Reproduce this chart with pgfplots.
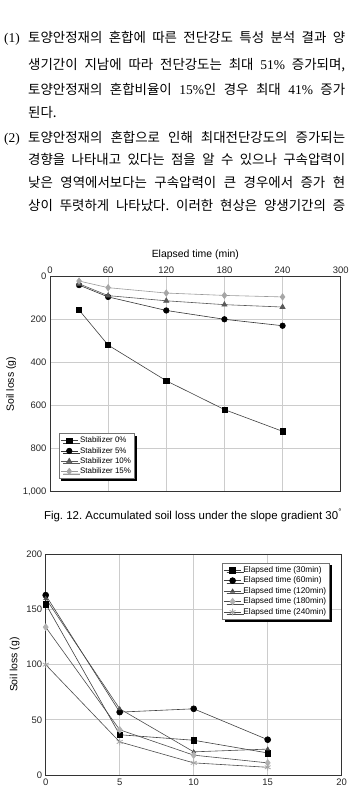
\documentclass[border=0pt]{standalone}
\usepackage{fontspec}
\setmainfont{Liberation Sans}
\newfontfamily\kr{Noto Sans CJK KR}
\newfontfamily\tnr{Liberation Serif}
\usepackage{pgfplots}
\pgfplotsset{compat=1.18}
\usetikzlibrary{shadows}
\frenchspacing

\pgfplotsset{
  soilaxis/.style={
    scale only axis,
    grid=major,
    grid style={black!20, line width=0.8pt},
    axis line style={black!80, line width=0.9pt},
    major tick length=0pt,
    tick label style={font=\fontsize{9.5}{10}\selectfont, text=black!85},
    label style={font=\fontsize{10.5}{12}\selectfont},
    /pgf/number format/assume math mode=true,
    /pgf/number format/1000 sep={,},
    legend cell align=left,
    every axis plot/.append style={line width=0.6pt},
  },
  shadowlegend/.style={
    draw=black!55, line width=0.5pt, fill=white,
    inner sep=1.5pt, row sep=-1pt,
    drop shadow={shadow xshift=2.5bp, shadow yshift=-2.5bp, fill=black, opacity=1},
  },
}

% one justified text line of the body
\newcommand{\bodyline}[2]{\node[anchor=base west, inner sep=0pt] at (28,#1) {\fontsize{13.5}{14}\kr\makebox[317bp][s]{#2}};}

\begin{document}
\begin{tikzpicture}[x=1bp, y=-1bp]
\useasboundingbox (0,0) rectangle (352,789);

% ---- body text ----
\node[anchor=base west, inner sep=0pt] at (4,42.7) {\fontsize{13.5}{14}\tnr (1)};
\bodyline{42.7}{토양안정재의 혼합에 따른 전단강도 특성 분석 결과 양}
\bodyline{69.4}{생기간이 지남에 따라 전단강도는 최대 {\tnr 51\%} 증가되며,}
\bodyline{94.4}{토양안정재의 혼합비율이 {\tnr 15\%}인 경우 최대 {\tnr 41\%} 증가}
\node[anchor=base west, inner sep=0pt] at (28,117.7) {\fontsize{13.5}{14}\kr 된다.};
\node[anchor=base west, inner sep=0pt] at (4,142.7) {\fontsize{13.5}{14}\tnr (2)};
\bodyline{142.7}{토양안정재의 혼합으로 인해 최대전단강도의 증가되는}
\bodyline{164.4}{경향을 나타내고 있다는 점을 알 수 있으나 구속압력이}
\bodyline{187.1}{낮은 영역에서보다는 구속압력이 큰 경우에서 증가 현}
\bodyline{210.1}{상이 뚜렷하게 나타났다. 이러한 현상은 양생기간의 증}

% ---- accumulated soil loss vs elapsed time ----
\begin{axis}[soilaxis,
  at={(50bp,-491.7bp)}, anchor=south west,
  width=290.7bp, height=215bp,
  xmin=0, xmax=300, ymin=0, ymax=1000,
  y dir=reverse,
  xtick={0,60,120,180,240,300},
  ytick={0,200,400,600,800,1000},
  xticklabel pos=upper,
  xlabel={Elapsed time (min)},
  ylabel={Soil loss (g)},
  legend style={shadowlegend, at={(0.03,0.06)}, anchor=south west,
    font=\fontsize{8}{8.5}\selectfont},
]
\addplot[color=black!75, mark=square*, mark size=2.6pt,
  mark options={fill=black, draw=black}]
  coordinates {(30,155) (60,318) (120,484) (180,618) (240,719)};
\addlegendentry{Stabilizer 0\%}
\addplot[color=black!80, mark=*, mark size=2.8pt,
  mark options={fill=black, draw=black}]
  coordinates {(30,39) (60,94) (120,157) (180,198) (240,228)};
\addlegendentry{Stabilizer 5\%}
\addplot[color=black!65, mark=triangle*, mark size=3pt,
  mark options={fill=black!65, draw=black!65}]
  coordinates {(30,33) (60,88) (120,112) (180,130) (240,141)};
\addlegendentry{Stabilizer 10\%}
\addplot[color=black!40, mark=diamond*, mark size=3.2pt,
  mark options={fill=black!35, draw=black!35}]
  coordinates {(30,20) (60,51) (120,76) (180,87) (240,94)};
\addlegendentry{Stabilizer 15\%}
\end{axis}

\node[anchor=base, inner sep=0pt] at (193,519)
  {\fontsize{11.5}{13}\selectfont Fig. 12. Accumulated soil loss under the slope gradient 30\textsuperscript{°}};

% ---- soil loss per interval ----
\begin{axis}[soilaxis,
  at={(45.7bp,-775bp)}, anchor=south west,
  width=296bp, height=220.7bp,
  xmin=0, xmax=20, ymin=0, ymax=200,
  xtick={0,5,10,15,20},
  ytick={0,50,100,150,200},
  ylabel={Soil loss (g)},
  legend style={shadowlegend, at={(0.96,0.962)}, anchor=north east,
    font=\fontsize{8.3}{8.8}\selectfont},
]
\addplot[color=black!75, mark=square*, mark size=2.9pt,
  mark options={fill=black, draw=black}]
  coordinates {(0,155) (5,36.5) (10,31.5) (15,20)};
\addlegendentry{Elapsed time (30min)}
\addplot[color=black!75, mark=*, mark size=3pt,
  mark options={fill=black, draw=black}]
  coordinates {(0,163) (5,57) (10,60) (15,32)};
\addlegendentry{Elapsed time (60min)}
\addplot[color=black!70, mark=triangle*, mark size=2.2pt,
  mark options={fill=black!70, draw=black!70}]
  coordinates {(0,160) (5,60) (10,21) (15,23.5)};
\addlegendentry{Elapsed time (120min)}
\addplot[color=black!70, mark=diamond*, mark size=3.4pt,
  mark options={fill=black!30, draw=black!30}]
  coordinates {(0,134) (5,41) (10,18) (15,11)};
\addlegendentry{Elapsed time (180min)}
\addplot[color=black!70, mark=asterisk, mark size=3.4pt,
  mark options={draw=black!35, line width=0.8pt}]
  coordinates {(0,100) (5,30) (10,11) (15,7)};
\addlegendentry{Elapsed time (240min)}
\end{axis}
\end{tikzpicture}
\end{document}
